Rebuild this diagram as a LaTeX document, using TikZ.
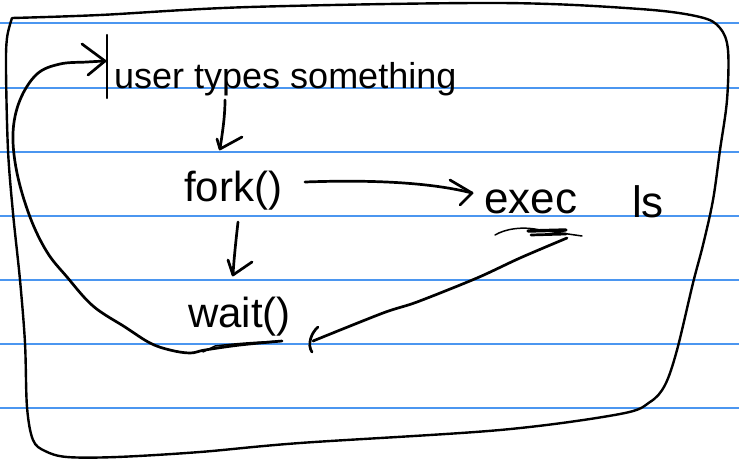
\documentclass[tikz,border=0pt]{standalone}
\usepackage{fontspec}
\setmainfont{Liberation Sans}
\definecolor{ruleblue}{RGB}{75,150,240}
\begin{document}
\begin{tikzpicture}[x=1pt,y=-1pt,
  ink/.style={draw=black,line width=2.7pt,line cap=round,line join=round},
  fineink/.style={draw=black,line width=1.5pt,line cap=round,line join=round},
  ruling/.style={draw=ruleblue,line width=2pt},
  word/.style={inner sep=0pt,anchor=base west,font=\fontsize{42}{48}\selectfont}]
% paper
\fill[white] (0,0) rectangle (739,461);
\useasboundingbox (0,0) rectangle (739,461);
\foreach \yy in {23,87.5,151.5,215.5,279.5,343.5,407.5}
  \draw[ruling] (0,\yy) -- (739,\yy);

% outer frame
\draw[ink,line width=2.4pt] plot[smooth,tension=0.55] coordinates {
  (12,18) (100,15) (250,7) (500,3) (640,9) (700,17) (720,28) (728,50)
  (727,100) (720,150) (713,200) (703,245) (693,283) (677,350) (665,385)
  (650,402) (620,414) (500,430) (300,443) (200,452) (117,457) (67,457)
  (45,451) (33,440) (27,407) (25,343) (20,280) (13,213) (8,150) (6,70)
  (7,38) (12,18)};

% labels
\node[word,font=\fontsize{36}{40}\selectfont] (user) at (114,88) {user types something};
\node[word] (fork) at (184,201) {fork()};
\node[word,font=\fontsize{44}{48}\selectfont] (exec) at (484,213) {exec};
\node[word,font=\fontsize{44}{48}\selectfont] (ls) at (632,217) {ls};
\node[word] (wait) at (188,327) {wait()};

% connector end points
\coordinate (userOut) at (225,100);
\coordinate (forkIn) at (220,149);
\coordinate (forkRight) at (305,182);
\coordinate (execIn) at (472,193);
\coordinate (forkDown) at (238,222);
\coordinate (waitIn) at (233,275);
\coordinate (execOut) at (567,238);
\coordinate (waitRight) at (313,341);
\coordinate (waitOut) at (282,341);
\coordinate (userIn) at (105,61);

% text cursor
\draw[ink,line width=2.3pt] (107,35) -- (107,98);

% user -> fork
\draw[ink] (userOut) .. controls (225,118) and (222,135) .. (forkIn);
\draw[ink] (217,139) -- (forkIn) -- (242,137);

% fork -> exec
\draw[ink] (forkRight) .. controls (360,180) and (425,181) .. (execIn);
\draw[ink] (450,180) -- (execIn) -- (460,205);

% fork -> wait
\draw[ink] (forkDown) .. controls (236,240) and (234,258) .. (waitIn);
\draw[ink] (228,260) -- (waitIn) -- (252,262);

% underline under exec
\draw[fineink] (495,235) .. controls (505,229) and (522,226) .. (540,230) -- (582,236);
\draw[ink,line width=3.4pt] (528,231) -- (566,230);
\draw[ink] (531,235) -- (566,234);

% exec -> wait
\draw[ink] plot[smooth,tension=0.5] coordinates {(execOut) (520,258) (477,278) (417,302) (383,313) (waitRight)};
\draw[ink] (318,327) .. controls (311,333) and (307,345) .. (312,352);

% wait -> back to user
\draw[fineink] (203,352) -- (215,346) .. controls (240,343) and (260,342) .. (waitOut);
\draw[fineink] (210,349) .. controls (235,344) and (255,343) .. (275,342);
\draw[ink] plot[smooth,tension=0.6] coordinates {
  (waitOut) (240,345) (205,350) (190,353) (170,350) (150,343) (125,327)
  (93,306) (67,277) (47,252) (30,217) (17,173) (13,133) (20,100) (37,74)
  (60,64) (87,62) (userIn)};
\draw[ink] (82,44) -- (userIn) -- (88,75);
\end{tikzpicture}
\end{document}
